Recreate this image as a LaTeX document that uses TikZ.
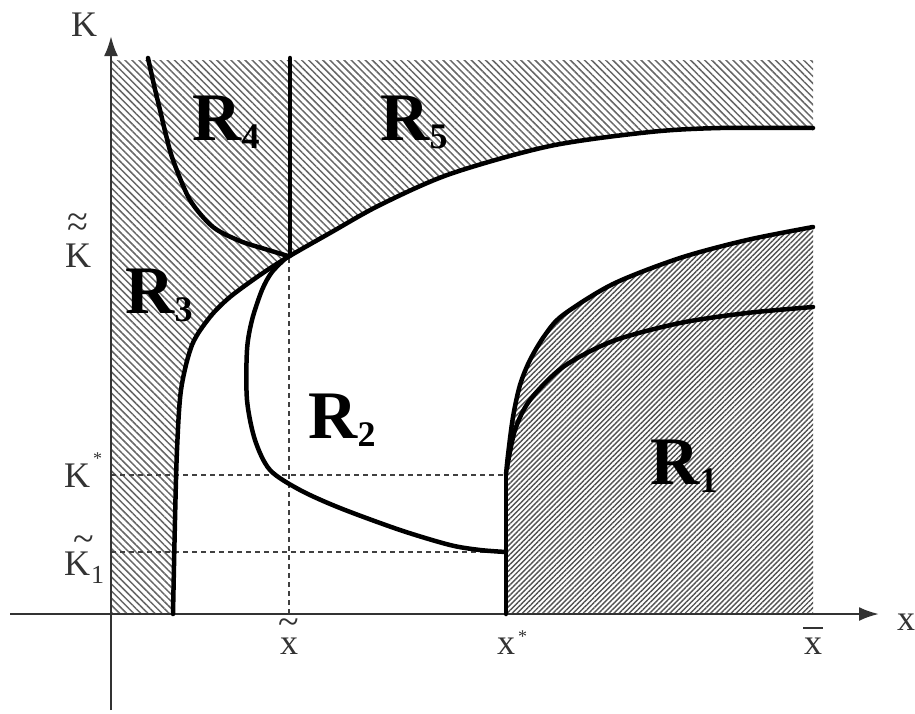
\documentclass[tikz,border=0pt]{standalone}
\usepackage{fontspec}
\setmainfont{Liberation Serif}
\usetikzlibrary{patterns.meta,arrows.meta}
\newcommand{\tl}{{\fontsize{38}{38}\selectfont\char"7E}}
\newcommand{\st}{{\fontsize{18}{18}\selectfont *}}
\tikzset{
  curve/.style={line width=4.5pt, line cap=round, line join=round},
  hatchA/.style={pattern={Lines[angle=-45,distance=5pt,line width=1.5pt]}, pattern color=black!60},
  hatchB/.style={pattern={Lines[angle=45,distance=3.6pt,line width=1.4pt]}, pattern color=black!68},
  axis/.style={line width=2.5pt, draw=black!80, -{Latex[length=20pt,width=14pt]}},
  guide/.style={line width=1.6pt, draw=black!75, dash pattern=on 5pt off 4pt},
  tick/.style={font=\fontsize{36}{36}\selectfont, text=black!80, inner sep=0pt, align=center},
  bigR/.style={font=\fontsize{68}{68}\selectfont\bfseries, inner sep=0pt, anchor=base west},
  subR/.style={font=\fontsize{36}{36}\selectfont\bfseries, inner sep=0pt, anchor=base west}
}
\begin{document}
\begin{tikzpicture}[x={(1pt,0)}, y={(0,-1pt)}]
\useasboundingbox (0,0) rectangle (915,713);
% hatched regions
\fill[hatchA] (111,614) -- (173,614) -- plot[smooth] coordinates {(173,614) (175,520) (177,450) (181,390) (192,345) (210,317) (230,297) (260,275) (288,257) (330,233) (380,205) (450,174) (550,146) (650,132) (720,128) (813,128)} -- (813,60) -- (111,60) -- cycle;
\fill[hatchB] (506,614) -- (506,475) -- plot[smooth] coordinates {(506,475) (508,455) (513,417) (520,385) (530,360) (545,335) (563,315) (613,284) (680,258) (747,240) (813,227)} -- (813,614) -- cycle;
% dashed guides
\draw[guide] (111,475) -- (506,475);
\draw[guide] (111,552) -- (506,552);
\draw[guide] (289,614) -- (289,256);
% axes
\draw[axis] (111,710) -- (111,36);
\draw[axis] (10,614) -- (879,614);
% curves
\draw[curve] plot[smooth] coordinates {(173,614) (175,520) (177,450) (181,390) (192,345) (210,317) (230,297) (260,275) (288,257) (330,233) (380,205) (450,174) (550,146) (650,132) (720,128) (813,128)};
\draw[curve] plot[smooth] coordinates {(148,58) (154,85) (160,110) (166,135) (173,160) (190,200) (213,227) (240,241) (265,249) (288,256)};
\draw[curve] (290,58) -- (290,256);
\draw[curve] plot[smooth] coordinates {(288,256) (272,272) (262,290) (252,320) (247,350) (247,400) (255,440) (270,470) (300,490) (340,508) (400,530) (450,545) (480,550) (506,552)};
\draw[curve] (506,614) -- (506,475);
\draw[curve] plot[smooth] coordinates {(506,475) (508,455) (513,417) (520,385) (530,360) (545,335) (563,315) (613,284) (680,258) (747,240) (813,227)};
\draw[curve] plot[smooth] coordinates {(507,468) (515,430) (530,400) (563,367) (613,341) (680,323) (747,313) (813,307)};
% region labels
\node[bigR] (r4) at (192,140) {R}; \node[subR] (r4s) at (r4.base east) [yshift=-8pt] {4};
\node[bigR] (r5) at (380,140) {R}; \node[subR] (r5s) at (r5.base east) [yshift=-8pt] {5};
\node[bigR] (r3) at (125,313) {R}; \node[subR] (r3s) at (r3.base east) [yshift=-8pt] {3};
\node[bigR] (r2) at (308,438) {R}; \node[subR] (r2s) at (r2.base east) [yshift=-8pt] {2};
\node[bigR] (r1) at (650,484) {R}; \node[subR] (r1s) at (r1.base east) [yshift=-8pt] {1};
% axis labels
\node[tick] (klab) at (84,25) {K};
\node[tick] (xlab) at (906,622) {x};
% x ticks
\node[tick, anchor=base] (xt) at (289,654) {\tl\\[-16pt]x};
\node[tick, anchor=base west] (xs) at (497,654) {x\hspace{3pt}\raisebox{12pt}{\st}};
\node[tick, anchor=base] (xb) at (813,654) {\rule{20pt}{2pt}\\[-11pt]x};
% K ticks
\node[tick, anchor=base] (kk) at (78,267) {\tl\\[-26pt]\tl\\[-8pt]K};
\node[tick, anchor=base west] (ks) at (64,487) {K\hspace{3pt}\raisebox{23pt}{\st}};
\node[tick, anchor=base west] (k1) at (64,575) {\tl\\[-12pt]K\hspace{1pt}\raisebox{-8pt}{\fontsize{26}{26}\selectfont 1}};
\end{tikzpicture}
\end{document}
